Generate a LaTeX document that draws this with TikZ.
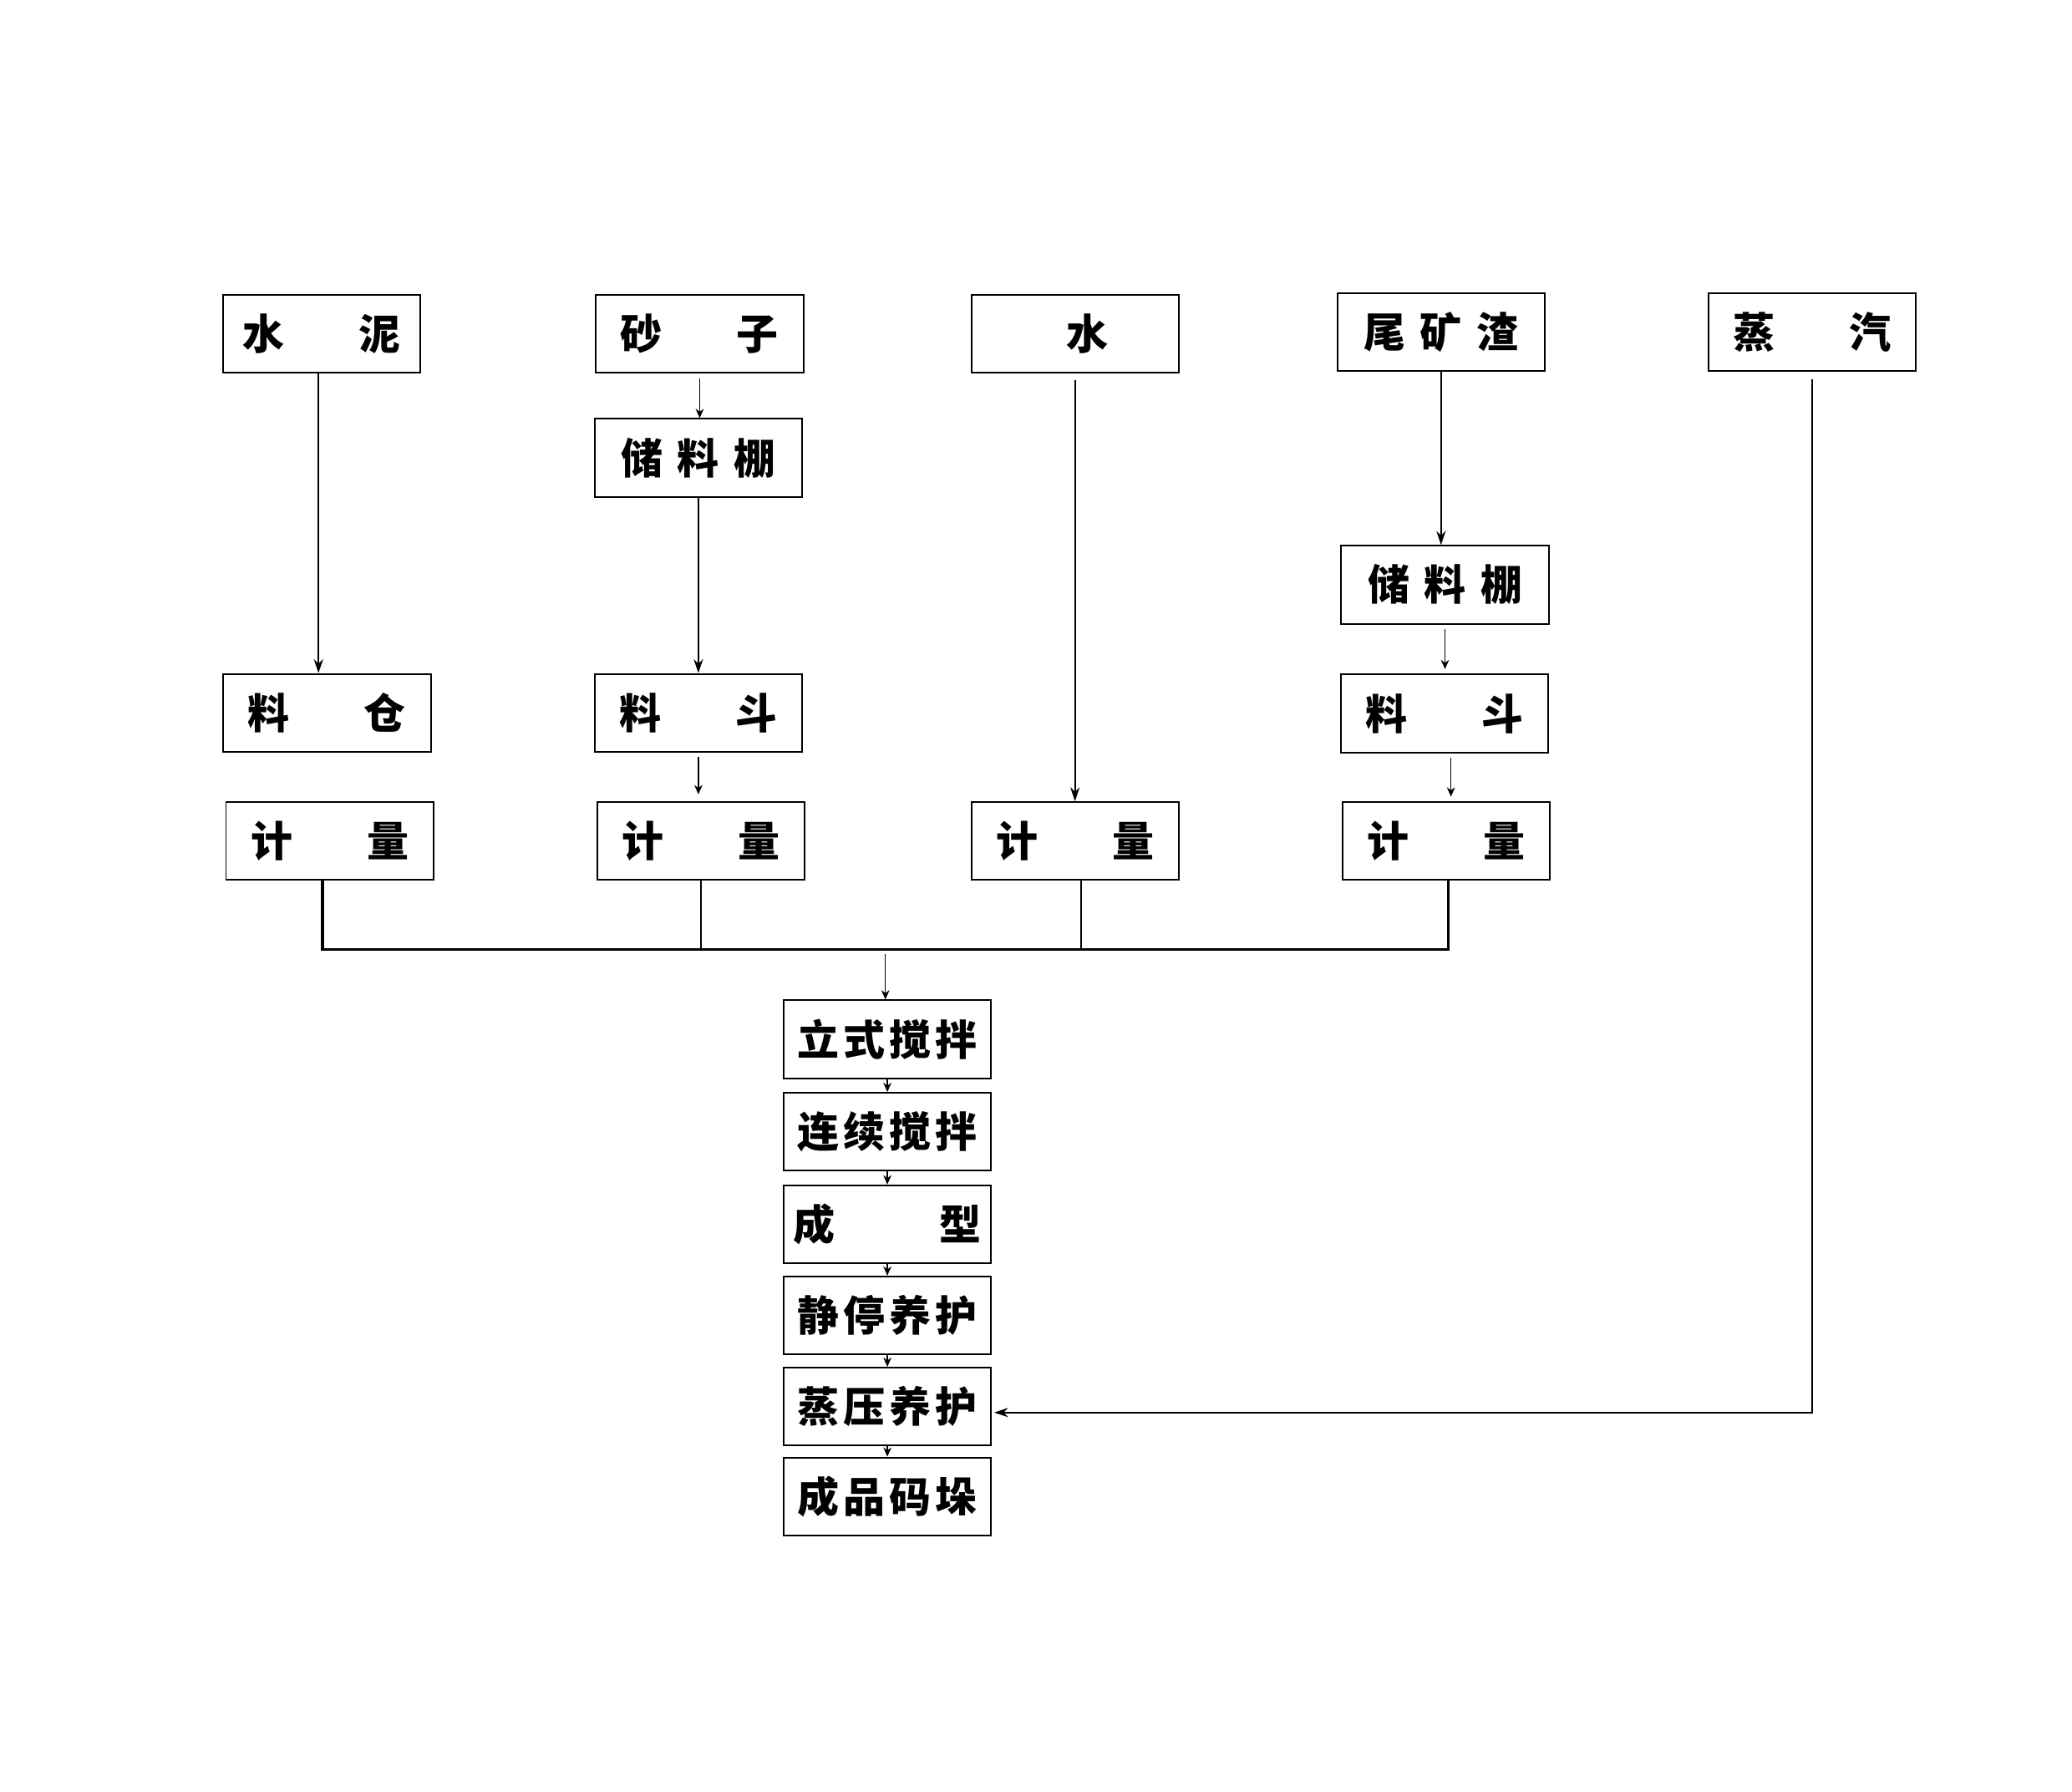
\documentclass[tikz,border=0pt]{standalone}
\usepackage{fontspec}
\newfontfamily\cjk{Noto Sans CJK SC}
\usetikzlibrary{arrows.meta}

\begin{document}
\begin{tikzpicture}[x=0.02cm, y=-0.02cm, >={Stealth[length=6pt,width=4pt]},
    box/.style={draw, line width=0.7pt, minimum width=3.14cm, minimum height=1.18cm,
      inner sep=0pt, font=\cjk\bfseries\fontsize{18}{18}\selectfont},
    flow/.style={->, line width=0.7pt},
    short/.style={-{Stealth[length=4pt,width=3.5pt]}, line width=0.5pt}]
    \useasboundingbox (0,0) rectangle (1568,1356);

    % Bahan baku
    \node[box, minimum width=2.98cm] (shuini) at (243.5,252.5) {水\hspace{1.78em}泥};
    \node[box] (shazi) at (529.5,252.5) {砂\hspace{1.78em}子};
    \node[box] (shui) at (813.5,252.5) {\hspace{0.6em}水};
    \node[box] (weikuang) at (1090.5,251.5) {尾\hspace{.35em}矿\hspace{.35em}渣};
    \node[box] (zhengqi) at (1371.5,251.5) {蒸\hspace{1.78em}汽};

    % Penyimpanan
    \node[box] (peng1) at (528.5,346.5) {储\hspace{.35em}料\hspace{.35em}棚};
    \node[box] (peng2) at (1093.5,442.5) {储\hspace{.35em}料\hspace{.35em}棚};
    \node[box] (cang) at (247.5,539.5) {料\hspace{1.78em}仓};
    \node[box] (dou1) at (528.5,539.5) {料\hspace{1.78em}斗};
    \node[box] (dou2) at (1093,540) {料\hspace{1.78em}斗};

    % Penimbangan
    \node[box] (ji1) at (249.5,636.5) {计\hspace{1.78em}量};
    \node[box] (ji2) at (530.5,636.5) {计\hspace{1.78em}量};
    \node[box] (ji3) at (813.5,636.5) {计\hspace{1.78em}量};
    \node[box] (ji4) at (1094.5,636.5) {计\hspace{1.78em}量};

    % Jalur produksi
    \node[box] (mix1) at (671.5,786.5) {立\hspace{.1em}式\hspace{.1em}搅\hspace{.1em}拌};
    \node[box] (mix2) at (671.5,856.5) {连\hspace{.1em}续\hspace{.1em}搅\hspace{.1em}拌};
    \node[box] (form) at (671.5,926.5) {成\hspace{2.5em}型};
    \node[box] (cure1) at (671.5,995.5) {静\hspace{.1em}停\hspace{.1em}养\hspace{.1em}护};
    \node[box] (cure2) at (671.5,1064.5) {蒸\hspace{.1em}压\hspace{.1em}养\hspace{.1em}护};
    \node[box] (stack) at (671.5,1132.5) {成\hspace{.1em}品\hspace{.1em}码\hspace{.1em}垛};

    % Aliran bahan
    \draw[flow] ([xshift=-0.05cm]shuini.south) -- ([xshift=-0.05cm]shuini.south |- cang.north);
    \draw[short, shorten <=2pt] (shazi.south) -- (shazi.south |- peng1.north);
    \draw[flow] (peng1.south) -- (peng1.south |- dou1.north);
    \draw[short, shorten <=2pt, shorten >=3pt] (dou1.south) -- (dou1.south |- ji2.north);
    \draw[flow, shorten <=3pt] (shui.south) -- (shui.south |- ji3.north);
    \draw[flow] (weikuang.south) -- (weikuang.south |- peng2.north);
    \draw[short, shorten <=2pt, shorten >=2pt] (peng2.south) -- (peng2.south |- dou2.north);
    \draw[short, shorten <=2pt, shorten >=2pt] ([xshift=0.1cm]dou2.south) -- ([xshift=0.1cm]dou2.south |- ji4.north);

    % Pengumpul
    \draw[line width=1.2pt] ([xshift=-0.11cm]ji1.south) -- ++(0,52) coordinate (bus) -| ([xshift=0.03cm]ji4.south);
    \draw[line width=0.7pt] (ji2.south) -- (ji2.south |- bus);
    \draw[line width=0.7pt] ([xshift=0.09cm]ji3.south) -- ([xshift=0.09cm]ji3.south |- bus);
    \draw[short, shorten <=2pt] ([xshift=-0.03cm]mix1.north |- bus) -- ([xshift=-0.03cm]mix1.north);

    % Antar tahap
    \draw[short] (mix1) -- (mix2);
    \draw[short] (mix2) -- (form);
    \draw[short] (form) -- (cure1);
    \draw[short] (cure1) -- (cure2);
    \draw[short] (cure2) -- (stack);

    % Uap
    \draw[flow, shorten <=3pt, shorten >=1pt] (zhengqi.south) |- ([yshift=-0.09cm]cure2.east);
\end{tikzpicture}
\end{document}
